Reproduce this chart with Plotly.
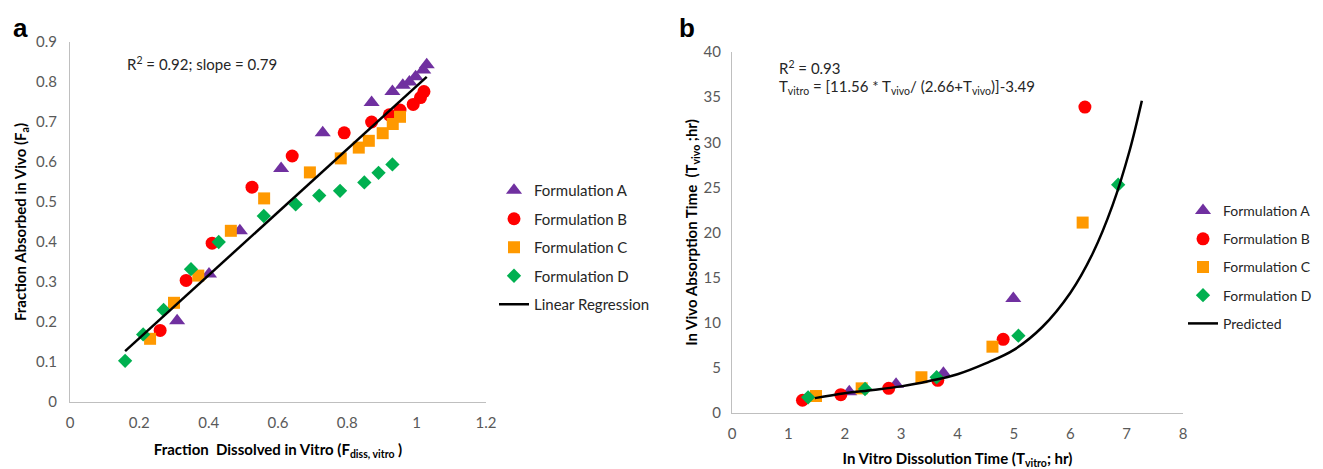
import plotly.graph_objects as go

# ---- panel a: fraction dissolved in vitro vs fraction absorbed in vivo ----
a_A_x = [0.309, 0.401, 0.490, 0.609, 0.729, 0.870, 0.930, 0.960, 0.979, 0.997, 1.019, 1.029]
a_A_y = [0.203, 0.320, 0.428, 0.584, 0.673, 0.749, 0.776, 0.792, 0.800, 0.813, 0.830, 0.843]
a_B_x = [0.260, 0.335, 0.410, 0.525, 0.641, 0.791, 0.870, 0.921, 0.952, 0.990, 1.011, 1.021]
a_B_y = [0.179, 0.304, 0.397, 0.537, 0.615, 0.673, 0.700, 0.718, 0.730, 0.744, 0.761, 0.776]
a_C_x = [0.231, 0.300, 0.370, 0.464, 0.560, 0.692, 0.781, 0.833, 0.862, 0.902, 0.931, 0.952]
a_C_y = [0.158, 0.248, 0.316, 0.428, 0.509, 0.574, 0.609, 0.636, 0.653, 0.672, 0.695, 0.713]
a_D_x = [0.159, 0.211, 0.270, 0.349, 0.429, 0.559, 0.651, 0.719, 0.779, 0.849, 0.890, 0.930]
a_D_y = [0.103, 0.169, 0.230, 0.332, 0.400, 0.465, 0.494, 0.516, 0.528, 0.549, 0.573, 0.594]
reg_x = [0.159, 1.029]
reg_y = [0.127, 0.813]

# ---- panel b: in vitro dissolution time vs in vivo absorption time ----
b_A_x = [2.08, 2.91, 3.75, 4.99]
b_A_y = [2.36, 3.18, 4.40, 12.7]
b_B_x = [1.25, 1.93, 2.78, 3.65, 4.81, 6.26]
b_B_y = [1.41, 2.03, 2.73, 3.62, 8.16, 33.9]
b_C_x = [1.49, 2.30, 3.36, 4.62, 6.22]
b_C_y = [1.88, 2.73, 3.96, 7.35, 21.1]
b_D_x = [1.35, 2.36, 3.63, 5.08, 6.85]
b_D_y = [1.74, 2.66, 3.96, 8.57, 25.3]
pred_x = [1.47, 2.0, 2.5, 3.0, 3.5, 4.0, 4.5, 5.0, 5.5, 6.0, 6.4, 6.75, 7.05, 7.27]
pred_y = [1.65, 2.2, 2.55, 2.95, 3.55, 4.3, 5.5, 7.0, 9.5, 13.3, 17.7, 23.0, 29.0, 34.6]

names = ['Formulation A', 'Formulation B', 'Formulation C', 'Formulation D']
symbols = ['triangle-up', 'circle', 'square', 'diamond']
sizes = [14, 13, 12, 11]
colors = ['#7030A0', '#FF0000', '#FF9900', '#00B050']

FONT = 'Lato, Arial, sans-serif'
# the page body has an 8px margin, so the figure is drawn 8px in from the corner
W, H = 1315, 461

fig = go.Figure()

a_sets = [(a_A_x, a_A_y), (a_B_x, a_B_y), (a_C_x, a_C_y), (a_D_x, a_D_y)]
for i, (xs, ys) in enumerate(a_sets):
    fig.add_trace(go.Scatter(
        x=xs, y=ys, mode='markers', name=names[i],
        marker=dict(symbol=symbols[i], size=sizes[i], color=colors[i]),
        xaxis='x', yaxis='y', legend='legend', legendgroup='a%d' % i,
    ))
fig.add_trace(go.Scatter(
    x=reg_x, y=reg_y, mode='lines', name='Linear Regression',
    line=dict(color='black', width=2.5),
    xaxis='x', yaxis='y', legend='legend', legendgroup='a4',
))

b_sets = [(b_A_x, b_A_y), (b_B_x, b_B_y), (b_C_x, b_C_y), (b_D_x, b_D_y)]
for i, (xs, ys) in enumerate(b_sets):
    fig.add_trace(go.Scatter(
        x=xs, y=ys, mode='markers', name=names[i],
        marker=dict(symbol=symbols[i], size=sizes[i], color=colors[i]),
        xaxis='x2', yaxis='y2', legend='legend2', legendgroup='b%d' % i,
    ))
fig.add_trace(go.Scatter(
    x=pred_x, y=pred_y, mode='lines', name='Predicted',
    line=dict(color='black', width=2.5, shape='spline'),
    xaxis='x2', yaxis='y2', legend='legend2', legendgroup='b4',
))

axis_style = dict(
    showgrid=False, zeroline=False, showline=True, linecolor='#BFBFBF',
    linewidth=1, ticks='', automargin=False,
    tickfont=dict(family=FONT, size=15, color='#595959'),
)
title_font = dict(family=FONT, size=15, color='#000000')

fig.update_layout(
    width=W, height=H,
    margin=dict(l=0, r=0, t=0, b=0, autoexpand=False),
    paper_bgcolor='white', plot_bgcolor='white',
    font=dict(family=FONT, size=15, color='#262626'),
    xaxis=dict(axis_style, domain=[62 / W, 478 / W], range=[0, 1.2], dtick=0.2, anchor='y',
               ticklabelstandoff=7,
               title=dict(text='<b>Fraction  Dissolved in Vitro (F<sub>diss, vitro</sub> )</b>',
                          font=title_font, standoff=14)),
    yaxis=dict(axis_style, domain=[67 / H, 427 / H], range=[0, 0.9], dtick=0.1, anchor='x',
               ticklabelstandoff=9,
               title=dict(text='<b>Fraction Absorbed in Vivo (F<sub>a</sub>)</b>',
                          font=title_font, standoff=5)),
    xaxis2=dict(axis_style, domain=[724 / W, 1175 / W], range=[0, 8], dtick=1, anchor='y2',
                ticklabelstandoff=7,
                title=dict(text='<b>In Vitro Dissolution Time (T<sub>vitro</sub>; hr)</b>',
                           font=title_font, standoff=16)),
    yaxis2=dict(axis_style, domain=[56 / H, 417 / H], range=[0, 40], dtick=5, anchor='x2',
                ticklabelstandoff=7,
                title=dict(text='<b>In Vivo Absorption Time  (T<sub>vivo</sub> ;hr)</b>',
                           font=title_font, standoff=2)),
    legend=dict(x=486 / W, y=1 - 166 / H, xanchor='left', yanchor='top',
                font=dict(family=FONT, size=15, color='#262626'),
                tracegroupgap=6, bgcolor='rgba(0,0,0,0)'),
    legend2=dict(x=1175 / W, y=1 - 187 / H, xanchor='left', yanchor='top',
                 font=dict(family=FONT, size=14, color='#262626'),
                 tracegroupgap=7, bgcolor='rgba(0,0,0,0)'),
    annotations=[
        dict(text='<b>a</b>', x=12 / W, y=1 - 20 / H, xref='paper', yref='paper',
             xanchor='center', yanchor='middle',
             showarrow=False, font=dict(family='Arial', size=26, color='black')),
        dict(text='<b>b</b>', x=679 / W, y=1 - 20 / H, xref='paper', yref='paper',
             xanchor='center', yanchor='middle',
             showarrow=False, font=dict(family='Arial', size=26, color='black')),
        dict(text='R<sup>2</sup> = 0.92; slope = 0.79', x=0.159, y=0.8475, xref='x', yref='y',
             xanchor='left', showarrow=False, font=dict(family=FONT, size=15, color='#262626')),
        dict(text='R<sup>2</sup> = 0.93', x=0.80, y=38.3, xref='x2', yref='y2',
             xanchor='left', showarrow=False, font=dict(family=FONT, size=15, color='#262626')),
        dict(text='T<sub>vitro</sub> = [11.56 * T<sub>vivo</sub>/ (2.66+T<sub>vivo</sub>)]-3.49',
             x=0.80, y=36.1, xref='x2', yref='y2',
             xanchor='left', showarrow=False, font=dict(family=FONT, size=15, color='#262626')),
    ],
)

fig.write_html('out.html')
